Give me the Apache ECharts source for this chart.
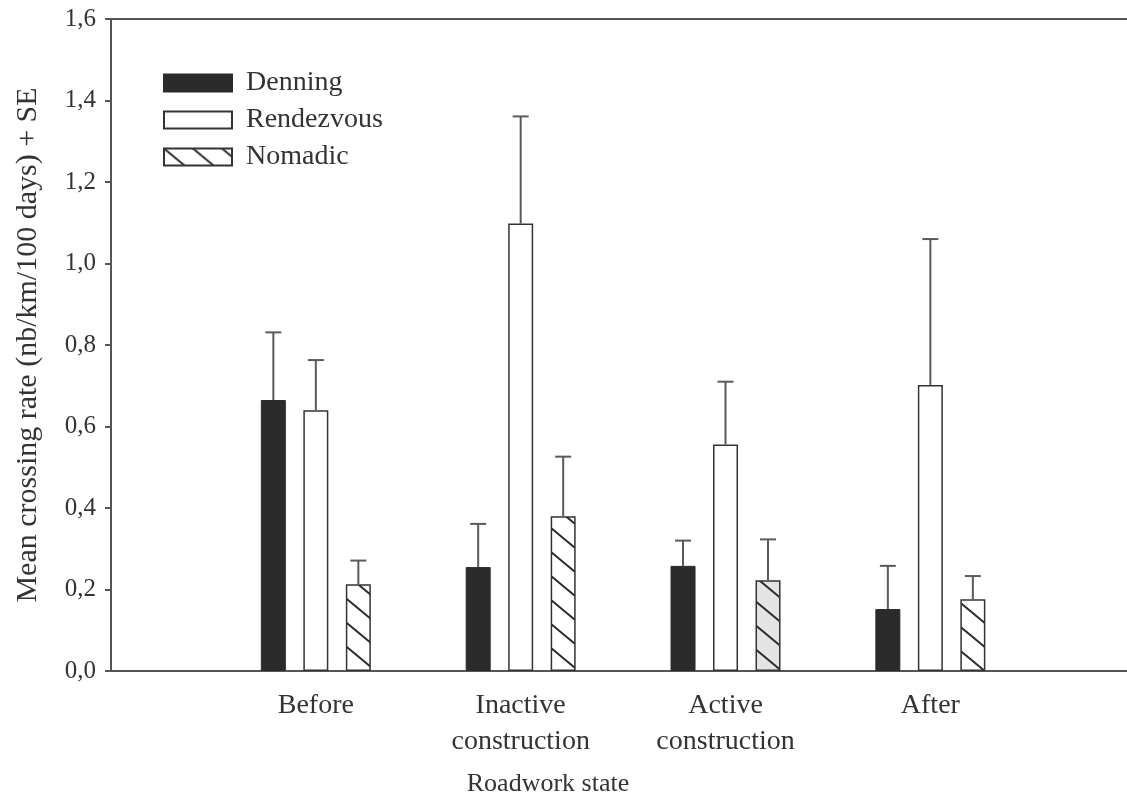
<!DOCTYPE html>
<html>
<head>
<meta charset="utf-8">
<script src="https://cdn.jsdelivr.net/npm/echarts@6/dist/echarts.min.js"></script>
<style>html,body{margin:0;padding:0;background:#fff;}#c{width:1127px;height:802px;}</style>
</head>
<body>
<div id="c"></div>
<script>
const categories = ['Before', 'Inactive\nconstruction', 'Active\nconstruction', 'After'];
const seriesNames = ['Denning', 'Rendezvous', 'Nomadic'];
const denning = [0.665, 0.255, 0.258, 0.152];
const denningSE = [0.166, 0.106, 0.062, 0.106];
const rendezvous = [0.640, 1.098, 0.556, 0.702];
const rendezvousSE = [0.123, 0.263, 0.154, 0.358];
const nomadic = [0.213, 0.380, 0.223, 0.176];
const nomadicSE = [0.058, 0.146, 0.100, 0.057];
const yTicks = [0, 0.2, 0.4, 0.6, 0.8, 1.0, 1.2, 1.4, 1.6];

function hatch(bg) {
  const w = 29, h = 24;
  const c = document.createElement('canvas');
  c.width = w; c.height = h;
  const g = c.getContext('2d');
  g.fillStyle = bg; g.fillRect(0, 0, w, h);
  g.strokeStyle = '#2a2a2a'; g.lineWidth = 2;
  g.beginPath();
  g.moveTo(-w, -h); g.lineTo(2 * w, 2 * h);
  g.moveTo(0, -h); g.lineTo(2 * w, h);
  g.moveTo(-w, 0); g.lineTo(w, 2 * h);
  g.stroke();
  return { image: c, repeat: 'repeat' };
}
const hatchWhite = hatch('#ffffff');
const hatchGray = hatch('#e4e4e4');

const serif = 'Liberation Serif, Times New Roman, serif';
const barW = 25;
const offsets = [-42.5, 0, 42.5];

function toPairs(arr) { return arr.map((v, i) => [i + 1, v]); }
function toErr(arr, se) { return arr.map((v, i) => [i + 1, v, se[i]]); }

function errSeries(name, vals, se, off) {
  return {
    type: 'custom', name: name + ' SE', z: 5,
    data: toErr(vals, se),
    renderItem: function (params, api) {
      const x = api.value(0), m = api.value(1), s = api.value(2);
      const p0 = api.coord([x, m]);
      const p1 = api.coord([x, m + s]);
      const cx = p0[0] + off;
      const st = { stroke: '#5a5a5a', lineWidth: 2 };
      return { type: 'group', children: [
        { type: 'line', shape: { x1: cx, y1: p0[1], x2: cx, y2: p1[1] }, style: st },
        { type: 'line', shape: { x1: cx - 8, y1: p1[1], x2: cx + 8, y2: p1[1] }, style: st }
      ] };
    }
  };
}

const nomadicData = toPairs(nomadic).map((d, i) => i === 2 ? { value: d, itemStyle: { color: hatchGray } } : d);

const chart = echarts.init(document.getElementById('c'), null, { renderer: 'canvas' });
chart.setOption({
  animation: false,
  backgroundColor: '#fff',
  grid: { left: 111, right: 0, top: 19, bottom: 131 },
  legend: {
    data: seriesNames,
    orient: 'vertical', left: 158, top: 64,
    itemWidth: 68, itemHeight: 17, itemGap: 9,
    icon: 'rect',
    textStyle: { fontFamily: serif, fontSize: 28, color: '#333', padding: [0, 0, 0, 9] }
  },
  xAxis: [{
    type: 'value', min: 0, max: 4.96, interval: 1,
    splitLine: { show: false },
    axisTick: { show: false },
    axisLine: { show: true, lineStyle: { color: '#555', width: 2 } },
    axisLabel: {
      fontFamily: serif, fontSize: 28, color: '#333', lineHeight: 36, margin: 17,
      showMaxLabel: false,
      formatter: v => (v >= 1 && v <= categories.length && Number.isInteger(v)) ? categories[v - 1] : ''
    },
    name: 'Roadwork state', nameLocation: 'middle', nameGap: 100,
    nameTextStyle: { fontFamily: serif, fontSize: 26, color: '#333', padding: [0, 142, 0, 0] }
  }, {
    type: 'value', position: 'top', min: 0, max: 4.96, interval: 1,
    splitLine: { show: false }, axisTick: { show: false }, axisLabel: { show: false },
    axisLine: { show: true, lineStyle: { color: '#555', width: 2 } }
  }],
  yAxis: {
    type: 'value', min: yTicks[0], max: yTicks[yTicks.length - 1], interval: 0.2,
    splitLine: { show: false },
    axisLine: { show: true, lineStyle: { color: '#555', width: 2 } },
    axisTick: { show: true, inside: false, length: 6, lineStyle: { color: '#555', width: 2 } },
    axisLabel: {
      fontFamily: serif, fontSize: 25, color: '#333', margin: 15,
      formatter: v => v.toFixed(1).replace('.', ',')
    },
    name: 'Mean crossing rate (nb/km/100 days) + SE', nameLocation: 'middle', nameGap: 68,
    nameTextStyle: { fontFamily: serif, fontSize: 30, color: '#333' }
  },
  series: [
    { type: 'bar', name: 'Denning', data: toPairs(denning), barWidth: barW, barGap: '70%',
      itemStyle: { color: '#2b2b2b', borderColor: '#2b2b2b', borderWidth: 1 } },
    { type: 'bar', name: 'Rendezvous', data: toPairs(rendezvous), barWidth: barW, barGap: '70%',
      itemStyle: { color: '#ffffff', borderColor: '#333', borderWidth: 1.5 } },
    { type: 'bar', name: 'Nomadic', data: nomadicData, barWidth: barW, barGap: '70%',
      itemStyle: { color: hatchWhite, borderColor: '#333', borderWidth: 1.5 } },
    errSeries('Denning', denning, denningSE, offsets[0]),
    errSeries('Rendezvous', rendezvous, rendezvousSE, offsets[1]),
    errSeries('Nomadic', nomadic, nomadicSE, offsets[2])
  ]
});
</script>
</body>
</html>
